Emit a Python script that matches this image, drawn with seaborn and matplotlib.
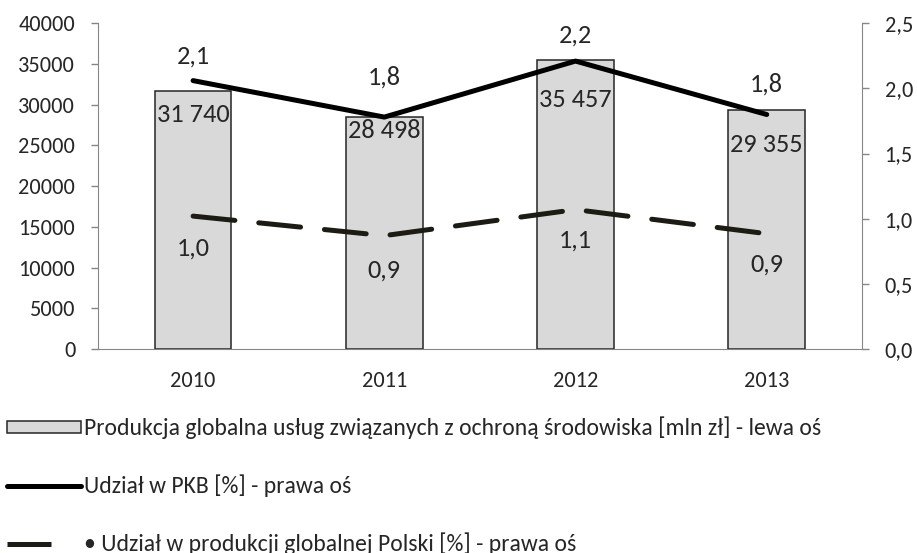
import matplotlib
matplotlib.use("Agg")
import matplotlib.pyplot as plt
import matplotlib.patches as mpatches
import matplotlib.lines as mlines
import numpy as np
import pandas as pd
import seaborn as sns

# ---------------------------------------------------------------------------
# dane
# ---------------------------------------------------------------------------
years = ["2010", "2011", "2012", "2013"]
produkcja = [31740, 28498, 35457, 29355]          # mln zł, lewa oś
udzial_pkb = [2.06, 1.78, 2.21, 1.80]              # %, prawa oś
udzial_prod = [1.02, 0.87, 1.07, 0.885]            # %, prawa oś
left_ticks = [0, 5000, 10000, 15000, 20000, 25000, 30000, 35000, 40000]
right_ticks = [0.0, 0.5, 1.0, 1.5, 2.0, 2.5]

label_bar = "Produkcja globalna usług związanych z ochroną środowiska [mln zł] - lewa oś"
label_pkb = "Udział w PKB [%] - prawa oś"
label_prod = "• Udział w produkcji globalnej Polski [%] - prawa oś"

# przesunięcia etykiet danych (w punktach), jak w oryginale z Excela
bar_label_dy = [-17, -10, -28, -25]
pkb_label_dy = [18, 29, 19, 22]
prod_label_dy = [-23, -25, -22, -22]

sns.set_style("white")
plt.rcParams["font.family"] = ["Carlito", "DejaVu Sans"]

df = pd.DataFrame({
    "rok": years,
    "pos": np.arange(len(years)),
    "produkcja": produkcja,
    "pkb": udzial_pkb,
    "prod": udzial_prod,
})

AXIS_GRAY = "#868686"
BAR_FILL = "#d9d9d9"
BAR_EDGE = "#262626"
DASH_COLOR = "#1c1c14"


def pl(v: float, nd: int = 1) -> str:
    return f"{v:.{nd}f}".replace(".", ",")


fig = plt.figure(figsize=(9.17, 5.53), dpi=100)
ax = fig.add_axes([97.5 / 917, 1 - 349 / 553, (862.3 - 97.5) / 917, (349 - 23.3) / 553])

sns.barplot(data=df, x="pos", y="produkcja", ax=ax, width=0.4,
            color=BAR_FILL, edgecolor=BAR_EDGE, linewidth=1.1, saturation=1,
            native_scale=True)
ax.set_xlim(-0.5, len(years) - 0.5)
ax.set_ylim(0, 40000)
ax.set_yticks(left_ticks)
ax.set_xticks(df["pos"])
ax.set_xticklabels(years)
ax.set_xticks(np.arange(-0.5, len(years)), minor=True)
ax.set_xlabel("")
ax.set_ylabel("")
ax.tick_params(axis="x", which="major", length=0, pad=16, labelsize=16)
ax.tick_params(axis="x", which="minor", length=5, color=AXIS_GRAY, direction="out", width=1)
ax.tick_params(axis="y", length=5, color=AXIS_GRAY, direction="out", labelsize=16,
               left=True, pad=11, width=1)
for side in ["top", "right"]:
    ax.spines[side].set_visible(False)
for side in ["left", "bottom"]:
    ax.spines[side].set_color(AXIS_GRAY)

for p, v, dy in zip(df["pos"], produkcja, bar_label_dy):
    ax.annotate(f"{v:,}".replace(",", " "), (p, v), xytext=(0, dy),
                textcoords="offset points", ha="center", va="center", fontsize=19)

ax2 = ax.twinx()
sns.lineplot(data=df, x="pos", y="pkb", ax=ax2, color="black", linewidth=3.6)
sns.lineplot(data=df, x="pos", y="prod", ax=ax2, color=DASH_COLOR, linewidth=3.6)
ax2.lines[0].set_solid_capstyle("round")
ax2.lines[-1].set_dashes((8.4, 4.8))
ax2.lines[-1].set_dash_capstyle("round")
ax2.set_ylim(0, 2.5)
ax2.set_yticks(right_ticks)
ax2.set_yticklabels([pl(t) for t in right_ticks])
ax2.set_xlabel("")
ax2.set_ylabel("")
ax2.tick_params(axis="y", length=5, color=AXIS_GRAY, direction="out", labelsize=16,
                right=True, pad=11, width=1)
for side in ["top", "left", "bottom"]:
    ax2.spines[side].set_visible(False)
ax2.spines["right"].set_color(AXIS_GRAY)

for p, v, dy in zip(df["pos"], udzial_pkb, pkb_label_dy):
    ax2.annotate(pl(v), (p, v), xytext=(0, dy), textcoords="offset points",
                 ha="center", va="center", fontsize=19)
for p, v, dy in zip(df["pos"], udzial_prod, prod_label_dy):
    ax2.annotate(pl(v), (p, v), xytext=(0, dy), textcoords="offset points",
                 ha="center", va="center", fontsize=19)

handles = [
    mpatches.Patch(facecolor=BAR_FILL, edgecolor=BAR_EDGE, linewidth=1.1),
    mlines.Line2D([], [], color="black", linewidth=3.6),
    mlines.Line2D([], [], color=DASH_COLOR, linewidth=3.6, dashes=(8.8, 12)),
]
fig.legend(handles, [label_bar, label_pkb, label_prod], loc="upper left",
           bbox_to_anchor=(0.008, 0.2465), frameon=False,
           borderpad=0, borderaxespad=0,
           labelspacing=1.5, handlelength=3.1, handleheight=0.45, handletextpad=0.15,
           prop={"family": ["Carlito", "DejaVu Sans"], "size": 17})

fig.savefig("out.png", dpi=100)
